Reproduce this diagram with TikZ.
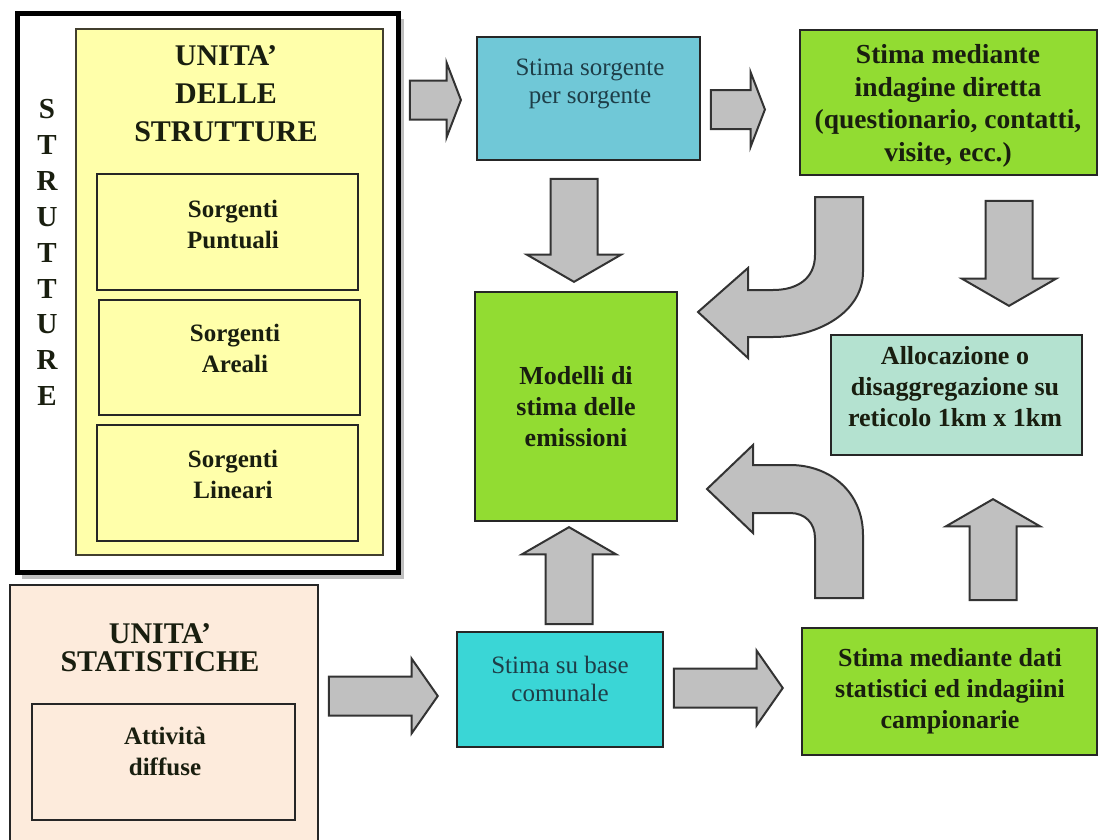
\documentclass[tikz,border=0pt]{standalone}
\usepackage{fontspec}
\setmainfont{Liberation Serif}
\usetikzlibrary{shapes.arrows, calc, positioning}

\definecolor{struyellow}{RGB}{255,255,170}
\definecolor{statpeach}{RGB}{253,235,220}
\definecolor{srcblue}{RGB}{112,200,215}
\definecolor{baseteal}{RGB}{58,214,214}
\definecolor{estgreen}{RGB}{146,220,50}
\definecolor{gridmint}{RGB}{180,226,208}
\definecolor{arrgray}{RGB}{192,192,192}
\definecolor{inkdark}{RGB}{25,30,15}
\definecolor{inkteal}{RGB}{30,62,72}

\tikzset{
  box/.style={rectangle, draw=black!85, line width=2pt, inner sep=0pt},
  headtxt/.style={font=\fontsize{30}{38}\selectfont\bfseries, text=inkdark, align=center},
  srctxt/.style={font=\fontsize{25}{31}\selectfont\bfseries, text=inkdark, align=center},
  boldtxt/.style={font=\fontsize{26}{31}\selectfont\bfseries, text=inkdark, align=center},
  plaintxt/.style={font=\fontsize{25}{28}\selectfont, text=inkteal, align=center},
  harr/.style={single arrow, draw=black!80, fill=arrgray, line width=2pt, inner xsep=0pt,
    inner ysep=18.5pt, minimum width=73pt, single arrow head extend=18pt},
  varr/.style={single arrow, draw=black!80, fill=arrgray, line width=2pt, inner xsep=0pt,
    inner ysep=22.5pt, minimum width=92pt, single arrow head extend=23.5pt, single arrow tip angle=120},
  curvarr/.style={draw=black!80, fill=arrgray, line width=2pt},
}

\begin{document}
\begin{tikzpicture}[x=1pt, y=-1pt]
  \useasboundingbox (0,0) rectangle (1104,839);
  \clip (0,0) rectangle (1104,839);

  % structures
  \fill[black!25] (22,19) rectangle (404,579);
  \node[box, fill=white, draw=black, line width=5pt, minimum width=381pt, minimum height=559pt] (strutture) at (207.5,292.5) {};
  \node[box, fill=struyellow, draw=black!70!olive, minimum width=307pt, minimum height=526pt] (unistru) at (229.5,292) {};
  \node[headtxt] (unistrutxt) at (226,94) {UNITA'\\DELLE\\STRUTTURE};
  \foreach \l [count=\i from 0] in {S,T,R,U,T,T,U,R,E}
    \node[headtxt, font=\fontsize{29}{29}\selectfont\bfseries] (vl\i) at (47,109+35.9*\i) {\l};
  \node[box, fill=struyellow, minimum width=261pt, minimum height=116pt] (puntuali) at (227.5,232) {};
  \node[srctxt] (puntualitxt) at (233,224) {Sorgenti\\Puntuali};
  \node[box, fill=struyellow, minimum width=261pt, minimum height=115pt] (areali) at (229.5,357.5) {};
  \node[srctxt] (arealitxt) at (235,348) {Sorgenti\\Areali};
  \node[box, fill=struyellow, minimum width=261pt, minimum height=116pt] (lineari) at (227.5,483) {};
  \node[srctxt] (linearitxt) at (233,474) {Sorgenti\\Lineari};

  % statistical units
  \node[box, fill=statpeach, minimum width=308pt, minimum height=285pt] (unistat) at (164,727.5) {};
  \node[headtxt, font=\fontsize{30}{28}\selectfont\bfseries] (unistattxt) at (160,648) {UNITA'\\STATISTICHE};
  \node[box, fill=statpeach, minimum width=263pt, minimum height=116pt] (diffuse) at (163.5,762) {};
  \node[srctxt] (diffusetxt) at (165,751) {Attività\\diffuse};

  % estimation boxes
  \node[box, fill=srcblue, minimum width=223pt, minimum height=123pt] (sorgente) at (588.5,98.5) {};
  \node[plaintxt] (sorgentetxt) at (590,84) {Stima sorgente\\per sorgente};
  \node[box, fill=estgreen, minimum width=297pt, minimum height=145pt] (indagine) at (948.5,102.5) {};
  \node[boldtxt, font=\fontsize{27.5}{32.5}\selectfont\bfseries] (indaginetxt) at (948,106)
    {Stima mediante\\indagine diretta\\(questionario, contatti,\\visite, ecc.)};
  \node[box, fill=estgreen, minimum width=202pt, minimum height=229pt] (modelli) at (576,406.5) {};
  \node[boldtxt] (modellitxt) at (576,407) {Modelli di\\stima delle\\emissioni};
  \node[box, fill=gridmint, minimum width=251pt, minimum height=120pt] (alloc) at (956.5,395) {};
  \node[boldtxt] (alloctxt) at (955,387) {Allocazione o\\disaggregazione su\\reticolo 1km x 1km};
  \node[box, fill=baseteal, minimum width=206pt, minimum height=115pt] (subase) at (560,689.5) {};
  \node[plaintxt] (subasetxt) at (560,679) {Stima su base\\comunale};
  \node[box, fill=estgreen, minimum width=295pt, minimum height=127pt] (dati) at (949.5,691.5) {};
  \node[boldtxt] (datitxt) at (950,691) {Stima mediante dati\\statistici ed indagiini\\campionarie};

  % block arrows
  \node[harr, single arrow tip angle=138, minimum height=51pt, anchor=tip] (a1) at ($(sorgente.west)+(-14,1.5)$) {};
  \node[harr, single arrow tip angle=138, minimum height=54pt, anchor=tip] (a2) at ($(indagine.west)+(-33,7)$) {};
  \node[harr, single arrow tip angle=110, minimum height=109pt, anchor=tip] (a7) at ($(dati.west)+(-17,-3.5)$) {};
  \node[harr, single arrow tip angle=110, minimum height=109pt, anchor=tip] (a8) at ($(subase.west)+(-17,6.5)$) {};
  \node[varr, rotate=-90, minimum height=103pt, anchor=tip] (a3) at ($(modelli.north)+(-2,-8)$) {};
  \node[varr, rotate=90, minimum height=97pt, anchor=tip] (a4) at ($(modelli.south)+(-7,4)$) {};
  \node[varr, rotate=-90, minimum height=105pt, anchor=tip] (a5) at ($(alloc.north east)+(-74,-27)$) {};
  \node[varr, rotate=90, minimum height=101pt, anchor=tip] (a6) at ($(alloc.south east)+(-90,42)$) {};

  % bent arrows
  \draw[curvarr] (815,197) -- (863,197) -- (863,272) .. controls (863,312) and (818,337) .. (773,337)
    -- (748,337) -- (748,358) -- (698,312) -- (748,268) -- (748,290) -- (773,290)
    .. controls (798,290) and (815,278) .. (815,255) -- cycle;
  \draw[curvarr] (815,598) -- (863,598) -- (863,535) .. controls (863,492) and (830,465) .. (790,465)
    -- (753,465) -- (753,445) -- (707,489) -- (753,533) -- (753,513) -- (790,513)
    .. controls (805,513) and (815,523) .. (815,538) -- cycle;
\end{tikzpicture}
\end{document}
